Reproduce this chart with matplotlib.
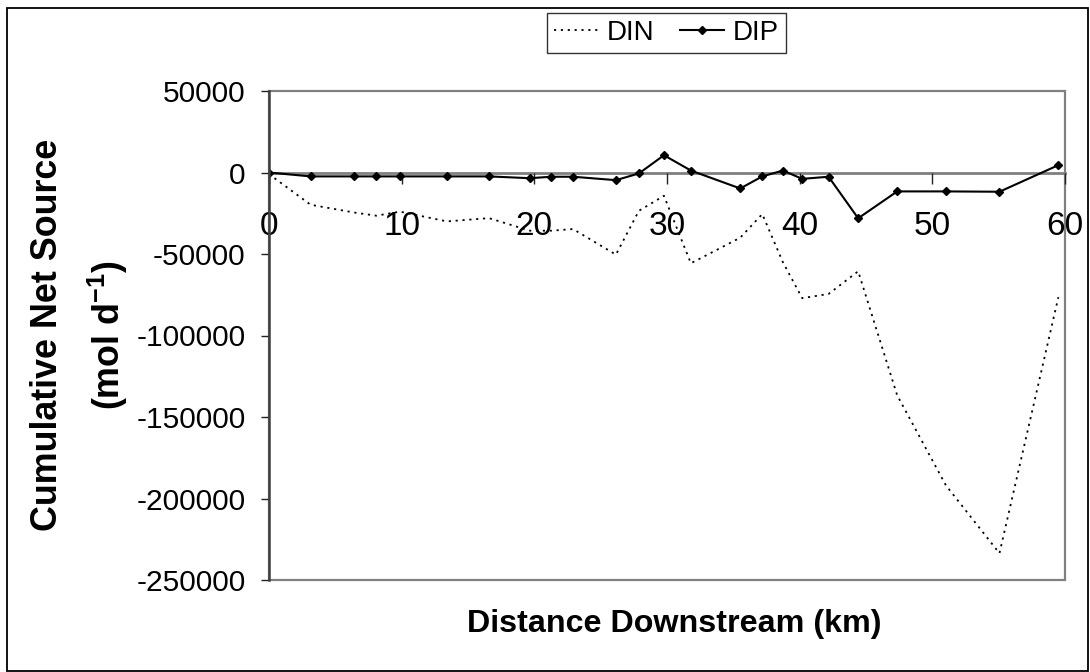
import matplotlib
matplotlib.use("Agg")
import matplotlib.pyplot as plt
from matplotlib.patches import Rectangle

plt.rcParams['font.family'] = ['Liberation Sans', 'DejaVu Sans']
plt.rcParams['axes.unicode_minus'] = False
plt.rcParams['mathtext.fontset'] = 'custom'
plt.rcParams['mathtext.bf'] = 'Liberation Sans:bold'
plt.rcParams['mathtext.rm'] = 'Liberation Sans'
plt.rcParams['mathtext.default'] = 'bf'

# ---- data ----
distance_km = [0, 3.14, 6.38, 8.09, 9.87, 13.41, 16.58, 19.67, 21.28, 22.92, 26.15,
               27.88, 29.77, 31.8, 35.52, 37.18, 38.74, 40.19, 42.18, 44.41, 47.35,
               51.02, 55.06, 59.5]
din = [-1000, -19800, -24500, -26500, -24000, -30000, -28000, -35700, -35700, -34700,
       -50400, -23500, -14300, -55700, -40000, -25500, -55100, -77100, -74500, -60600,
       -136700, -191900, -233600, -76500]
dip = [0, -2400, -2400, -2400, -2400, -2400, -2400, -3500, -2600, -2600, -4700,
       -600, 10600, 1200, -9800, -2400, 1200, -3900, -2600, -28100, -11600,
       -11600, -11800, 4500]
x_ticks = [0, 10, 20, 30, 40, 50, 60]
y_ticks = [50000, 0, -50000, -100000, -150000, -200000, -250000]
y_tick_labels = ["50000", "0", "-50000", "-100000", "-150000", "-200000", "-250000"]

W, H = 1090, 672
fig = plt.figure(figsize=(W / 100, H / 100), dpi=100)
ax = fig.add_axes([269 / W, 1 - 580 / H, (1065 - 269) / W, (580 - 91) / H])

ax.plot(distance_km, din, color='black', lw=1.3, linestyle=(0, (1.2, 2.6)), label='DIN')
ax.plot(distance_km, dip, color='black', lw=1.5, marker='D', markersize=4.5,
        label='DIP')

ax.set_xlim(0, 60)
ax.set_ylim(-250000, 50000)
ax.set_xticks(x_ticks)
ax.set_xticklabels([str(v) for v in x_ticks])
ax.set_yticks(y_ticks)
ax.set_yticklabels(y_tick_labels)

# spines: x axis at zero, frame around plot area
for s in ['top', 'right']:
    ax.spines[s].set_visible(False)
ax.spines['bottom'].set_position(('data', 0))
ax.spines['bottom'].set_color('#808080')
ax.spines['bottom'].set_linewidth(2)
ax.spines['bottom'].set_zorder(1)
ax.spines['left'].set_color('#404040')
ax.spines['left'].set_linewidth(1.8)
ax.add_patch(Rectangle((0, 0), 1, 1, transform=ax.transAxes, fill=False,
                       ec='#808080', lw=1.6, clip_on=False, zorder=0))

ax.tick_params(axis='x', direction='out', length=8, width=1, color='#222222',
               pad=20, labelsize=24)
ax.tick_params(axis='y', direction='out', length=6, width=1, color='#222222',
               pad=11, labelsize=21.5)

# axis labels
fig.text(48 / W, 1 - 335 / H, 'Cumulative Net Source', rotation=90, ha='center',
         va='center', fontsize=25.8, fontweight='bold')
fig.text(108 / W, 1 - 335 / H, r'(mol d$^{-1}$)', rotation=90, ha='center',
         va='center', fontsize=25.8, fontweight='bold')
fig.text(674 / W, 1 - 624 / H, 'Distance Downstream (km)', ha='center', va='center',
         fontsize=23.2, fontweight='bold')

leg = ax.legend(loc='center', bbox_to_anchor=(666.5 / W, 1 - 33 / H),
                bbox_transform=fig.transFigure, ncol=2, frameon=True, fancybox=False,
                fontsize=20, handlelength=1.6, handletextpad=0.3, columnspacing=0.9,
                borderpad=0.25, borderaxespad=0)
leg.get_frame().set_edgecolor('black')
leg.get_frame().set_linewidth(1.0)

fig.add_artist(Rectangle((7 / W, 1 - 671 / H), (1088 - 7) / W, (671 - 8) / H,
                         transform=fig.transFigure, fill=False, ec='black', lw=1.3))

fig.savefig('out.png', dpi=100)
